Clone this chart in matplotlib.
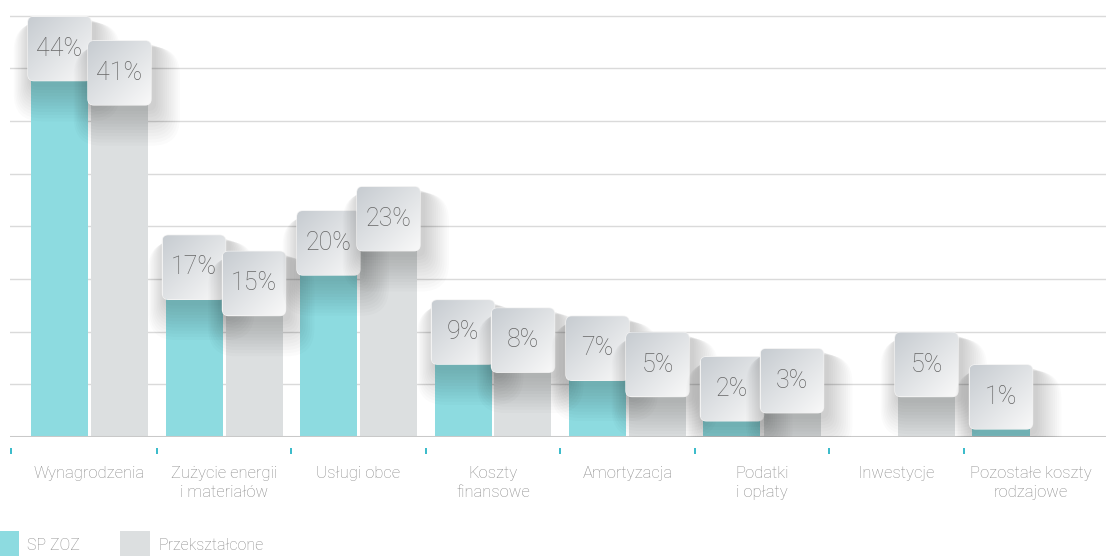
import numpy as np
import matplotlib
matplotlib.use('Agg')
import matplotlib.pyplot as plt
from matplotlib.patches import FancyBboxPatch, Rectangle
from matplotlib.transforms import blended_transform_factory

categories = ["Wynagrodzenia", "Zużycie energii\ni materiałów", "Usługi obce",
              "Koszty\nfinansowe", "Amortyzacja", "Podatki\ni opłaty",
              "Inwestycje", "Pozostałe koszty\nrodzajowe"]
sp_zoz = [44, 17, 20, 9, 7, 2, None, 1]
przeksztalcone = [41, 15, 23, 8, 5, 3, 5, None]
series_names = ["SP ZOZ", "Przekształcone"]
series_colors = ["#8ddbe0", "#dcdfe0"]

FONT = ['Roboto', 'DejaVu Sans']
plt.rcParams['font.family'] = FONT

W, H = 1106, 556
fig = plt.figure(figsize=(W / 100, H / 100), dpi=100)
base_px = 437
ax = fig.add_axes([10 / W, (H - base_px) / H, (W - 10) / W, base_px / H])
PXX = 1 / 134.5   # x data units per pixel
PXY = 1 / 8.1     # y data units per pixel
x_left = -79.5 * PXX
ax.set_xlim(x_left, x_left + (W - 10) * PXX)
ax.set_ylim(0, base_px * PXY)
ax.axis('off')

# gridlines
for k in range(1, 9):
    ax.axhline(k * 6.5, color='#dadada', lw=1.0, zorder=0)
ax.axhline(0, color='#c9c9c9', lw=2.2, zorder=5)

# ticks at category boundaries
trans = blended_transform_factory(ax.transData, ax.transAxes)
tick_x = [x_left + 0.5 * PXX] + [i - 0.5 for i in range(1, len(categories))]
for tx in tick_x:
    ax.plot([tx, tx], [-11 / base_px, -17 / base_px], color='#29b5c6', lw=1.3,
            transform=trans, clip_on=False, solid_capstyle='butt')

# category labels
for i, c in enumerate(categories):
    ax.text(i, -29 / base_px, c, transform=trans, ha='center', va='top',
            multialignment='center', fontsize=12, color='#8a8a8a',
            fontweight='light', linespacing=1.3)

bar_w = 57 * PXX
offsets = [-30 * PXX, 30 * PXX]
series = [sp_zoz, przeksztalcone]

# bars
for s, vals in enumerate(series):
    for i, v in enumerate(vals):
        if v is None:
            continue
        ax.bar(i + offsets[s], v, width=bar_w, color=series_colors[s], zorder=2,
               linewidth=0)

# label boxes
box_w = 63 * PXX
box_h = 64 * PXY
rs = 6 * PXX
aspect = PXY / PXX
dark = np.array([0.78, 0.80, 0.82])
light = np.array([0.975, 0.975, 0.975])
u = np.linspace(0, 1, 64)
vv = np.linspace(0, 1, 64)
U, V = np.meshgrid(u, vv)
T = np.clip((U + (1 - V)) / 2, 0, 1)
grad = dark[None, None, :] * (1 - T[..., None]) + light[None, None, :] * T[..., None]

z = 10
for i in range(len(categories)):
    for s, vals in enumerate(series):
        v = vals[i]
        if v is None:
            continue
        cx = i + offsets[s]
        bx0 = cx - box_w / 2
        by0 = v
        # soft shadow, mostly below / right
        for L in range(12):
            g = (L + 1) * 1.8
            dy = 3 + g * 0.75
            dx = 3 + g * 0.2
            sh = FancyBboxPatch((bx0 - g * PXX + dx * PXX, by0 - g * PXY - dy * PXY),
                                box_w + 2 * g * PXX, box_h + 2 * g * PXY * 0.8,
                                boxstyle=f"round,pad=0,rounding_size={rs + g * PXX}",
                                mutation_aspect=aspect, facecolor='black',
                                edgecolor='none', alpha=0.016, zorder=z)
            ax.add_patch(sh)
        patch = FancyBboxPatch((bx0, by0), box_w, box_h,
                               boxstyle=f"round,pad=0,rounding_size={rs}",
                               mutation_aspect=aspect, facecolor='#eeeeee',
                               edgecolor='#f2f2f2', lw=1.0, zorder=z + 1)
        ax.add_patch(patch)
        im = ax.imshow(grad, extent=[bx0, bx0 + box_w, by0, by0 + box_h],
                       origin='lower', aspect='auto', interpolation='bilinear',
                       zorder=z + 1.5)
        im.set_clip_path(patch)
        ax.text(cx, by0 + box_h / 2, f"{v}%", ha='center', va='center',
                fontsize=18, color='#666666', fontweight='light', zorder=z + 2)
        z += 3

ax.set_xlim(x_left, x_left + (W - 10) * PXX)
ax.set_ylim(0, base_px * PXY)

# legend
leg_x = [0, 120]
leg_w = [19, 30]
for s, name in enumerate(series_names):
    fig.patches.append(Rectangle((leg_x[s] / W, 0), leg_w[s] / W, 25 / H,
                                 transform=fig.transFigure,
                                 facecolor=series_colors[s], edgecolor='none'))
    fig.text((leg_x[s] + leg_w[s] + 8) / W, 11 / H, name, ha='left', va='center',
             fontsize=11.5, color='#8a8a8a', fontweight='light')

fig.savefig('out.png', dpi=100)
